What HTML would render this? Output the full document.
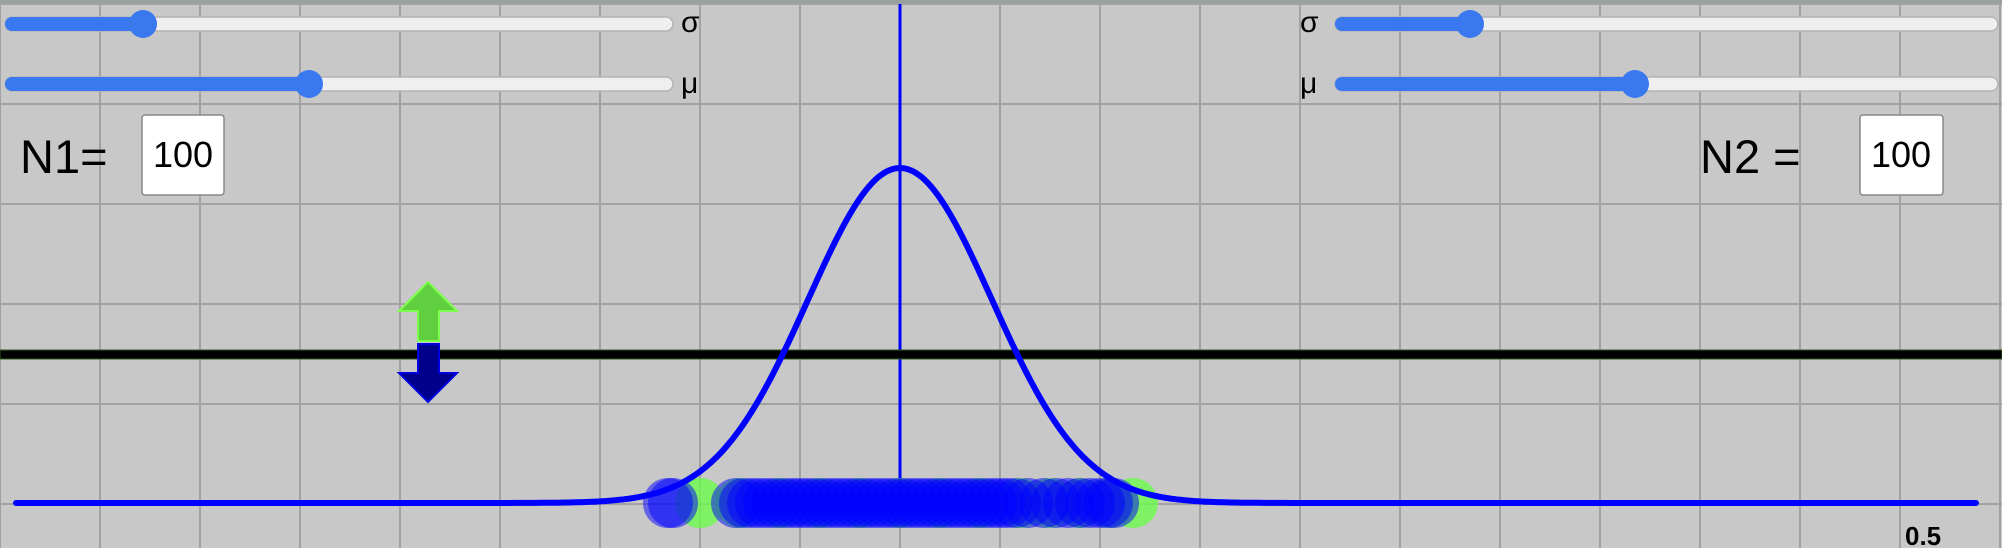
<!DOCTYPE html>
<html><head><meta charset="utf-8"><style>
html,body{margin:0;padding:0;background:#c8c8c8;}
svg{display:block;}
text{font-family:"Liberation Sans",sans-serif;}
</style></head><body>
<svg id="chart" width="2002" height="548" viewBox="0 0 2002 548" xmlns="http://www.w3.org/2000/svg">
<rect x="0" y="0" width="2002" height="548" fill="#c8c8c8"/>
<g id="grid"></g>
<rect x="0" y="0" width="2002" height="3" fill="#9aa0a0"/>
<line x1="900" y1="4" x2="900" y2="503" stroke="#0000ff" stroke-width="3"/>
<rect x="0" y="350" width="2002" height="9" fill="#000" stroke="#2f5a1f" stroke-width="1"/>
<g id="dots"></g>
<path id="curve" fill="none" stroke="#0000ff" stroke-width="6" stroke-linecap="round" stroke-linejoin="round"/>
<text x="1905" y="545" font-size="26" font-weight="bold" fill="#000">0.5</text>
<g>
<polygon points="418,341 439,341 439,311 457,311 428,282 399,311 418,311" fill="#5fcf3f" stroke="#7cff4c" stroke-width="2"/>
<polygon points="418,344 439,344 439,373 457,373 428,402 399,373 418,373" fill="#00008b" stroke="#0000e0" stroke-width="2"/>
</g>
<g>
<rect x="5" y="17" width="668" height="14" rx="7" fill="#efefef" stroke="#b4b4b4" stroke-width="1.5"/>
<rect x="5" y="17" width="138" height="14" rx="7" fill="#3a78f0"/>
<circle cx="143" cy="24" r="14" fill="#3a78f0"/>
</g>
<text x="681" y="32" font-size="30" fill="#000">σ</text>
<g>
<rect x="5" y="77" width="668" height="14" rx="7" fill="#efefef" stroke="#b4b4b4" stroke-width="1.5"/>
<rect x="5" y="77" width="304" height="14" rx="7" fill="#3a78f0"/>
<circle cx="309" cy="84" r="14" fill="#3a78f0"/>
</g>
<text x="681" y="93" font-size="30" fill="#000">μ</text>
<text x="1300" y="32" font-size="30" fill="#000">σ</text>
<g>
<rect x="1335" y="17" width="663" height="14" rx="7" fill="#efefef" stroke="#b4b4b4" stroke-width="1.5"/>
<rect x="1335" y="17" width="135" height="14" rx="7" fill="#3a78f0"/>
<circle cx="1470" cy="24" r="14" fill="#3a78f0"/>
</g>
<text x="1300" y="93" font-size="30" fill="#000">μ</text>
<g>
<rect x="1335" y="77" width="663" height="14" rx="7" fill="#efefef" stroke="#b4b4b4" stroke-width="1.5"/>
<rect x="1335" y="77" width="300" height="14" rx="7" fill="#3a78f0"/>
<circle cx="1635" cy="84" r="14" fill="#3a78f0"/>
</g>
<text x="20" y="173" font-size="47" fill="#000">N1=</text>
<rect x="142" y="115" width="82" height="80" rx="3" fill="#fff" stroke="#888" stroke-width="1.5"/>
<text x="183" y="167" font-size="36" fill="#000" text-anchor="middle">100</text>
<text x="1700" y="173" font-size="47" fill="#000">N2 =</text>
<rect x="1860" y="115" width="83" height="80" rx="3" fill="#fff" stroke="#888" stroke-width="1.5"/>
<text x="1901" y="167" font-size="36" fill="#000" text-anchor="middle">100</text>
</svg>
<script>
const sample1 = [-0.116,-0.1135,-0.082,-0.078,-0.074,-0.07,-0.066,-0.062,-0.058,-0.054,-0.05,-0.046,-0.042,-0.038,-0.034,-0.03,-0.026,-0.022,-0.018,-0.014,-0.01,-0.006,-0.002,0.002,0.006,0.01,0.014,0.018,0.022,0.026,0.03,0.034,0.038,0.042,0.046,0.05,0.054,0.058,0.064,0.072,0.078,0.084,0.09,0.095,0.1,0.104,0.107];
const sample2 = [-0.1,-0.08,-0.06,-0.04,-0.02,0,0.02,0.04,0.06,0.075,0.09,0.105,0.1165];
const curveMu = [0];
const curveSigma = [0.046];
const curvePeak = [335];
const xRange = [-0.442, 0.538];
const ns = "http://www.w3.org/2000/svg";
const xS = v => 900 + v * 2000;
const baseY = 503;
const grid = document.getElementById('grid');
for (let x = 0; x <= 2000; x += 100) {
  const l = document.createElementNS(ns, 'line');
  
  
  l.setAttribute('x1', x); l.setAttribute('x2', x); l.setAttribute('y1', 0); l.setAttribute('y2', 548);
  l.setAttribute('stroke', '#a2a2a2'); l.setAttribute('stroke-width', '2');
  grid.appendChild(l);
}
for (let y = 4; y <= 548; y += 100) {
  const l = document.createElementNS(ns, 'line');
  
  
  l.setAttribute('x1', 0); l.setAttribute('x2', 2002); l.setAttribute('y1', y); l.setAttribute('y2', y);
  l.setAttribute('stroke', '#a2a2a2'); l.setAttribute('stroke-width', '2');
  grid.appendChild(l);
}
const dots = document.getElementById('dots');
function addDots(arr, color, op, name) {
  arr.forEach(v => {
    const c = document.createElementNS(ns, 'circle');
    
    
    c.setAttribute('cx', xS(v)); c.setAttribute('cy', baseY); c.setAttribute('r', 25);
    c.setAttribute('fill', color); c.setAttribute('fill-opacity', op);
    dots.appendChild(c);
  });
}
addDots(sample2, '#66ff44', 0.75, 'sample2-dot');
addDots(sample1, '#0000ff', 0.5, 'sample1-dot');
let d = '';
for (let px = xS(xRange[0]); px <= xS(xRange[1]); px += 2) {
  const v = (px - 900) / 2000;
  const z = (v - curveMu[0]) / curveSigma[0];
  const y = baseY - curvePeak[0] * Math.exp(-z * z / 2);
  d += (d ? 'L' : 'M') + px.toFixed(1) + ',' + y.toFixed(1);
}
document.getElementById('curve').setAttribute('d', d);
</script>
</body></html>
